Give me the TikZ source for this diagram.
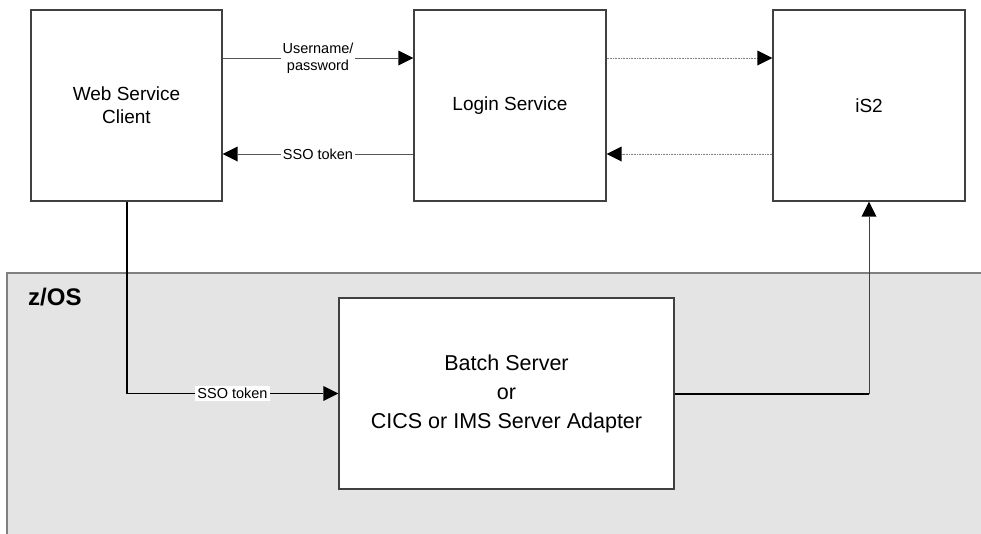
\documentclass[tikz,border=0pt]{standalone}
\usepackage{fontspec}
\setmainfont{Liberation Sans}
\usetikzlibrary{arrows.meta}
\definecolor{zosfill}{HTML}{E4E4E4}
\definecolor{edgegray}{HTML}{404040}
\definecolor{linegray}{HTML}{555555}
\tikzset{
  boxnode/.style={draw=edgegray, line width=1.1pt, fill=white, inner sep=0pt,
    minimum width=#1, minimum height=191pt, align=center,
    font=\fontsize{19}{23}\selectfont},
  boxnode/.default=191pt,
  tip/.style={-{Triangle[length=15pt,width=15pt,color=black,line width=0pt]}},
  labelarrow/.style={tip, draw=linegray, line width=0.9pt},
  dotarrow/.style={tip, draw=gray, line width=1pt, dash pattern=on 1pt off 0.6pt},
  thickarrow/.style={draw=black, line width=2pt},
  lbl/.style={fill=white, inner sep=2pt, align=center, font=\fontsize{14.5}{17}\selectfont}
}
\begin{document}
\begin{tikzpicture}[x=1pt,y=-1pt]
\useasboundingbox (0,0) rectangle (981,533);
\clip (0,0) rectangle (981,533);
% z/OS region
\draw[draw=gray, line width=1.1pt, fill=zosfill] (7,273) rectangle (990,545);
\node[anchor=base west, font=\fontsize{24}{28}\selectfont\bfseries, inner sep=0pt] (zos) at (28,305) {z/OS};
% boxes
\node[boxnode] (web) at (126.5,105.5) {Web Service\\Client};
\node[boxnode=192pt] (login) at (510,105.5) {Login Service};
\node[boxnode=192pt] (is2) at (869,105.5) {iS2};
\node[boxnode=335pt, font=\fontsize{21.5}{29}\selectfont] (batch) at (506.5,393.5) {Batch Server\\or\\CICS or IMS Server Adapter};
% connectors
\draw[labelarrow] ([yshift=47.5pt]web.east) -- node[lbl] (up) {Username/\\password} ([yshift=47.5pt]login.west);
\draw[labelarrow] ([yshift=-48.5pt]login.west) -- node[lbl] (sso1) {SSO token} ([yshift=-48.5pt]web.east);
\draw[dotarrow] ([yshift=47.5pt]login.east) -- ([yshift=47.5pt]is2.west);
\draw[dotarrow] ([yshift=-48.5pt]is2.west) -- ([yshift=-48.5pt]login.east);
\draw[thickarrow] (web.south) -- (web.south |- batch.west);
\draw[labelarrow, draw=black] (web.south |- batch.west) -- node[lbl] (sso2) {SSO token} (batch.west);
\draw[thickarrow] (batch.east) -- (batch.east -| is2.south);
\draw[tip, draw=edgegray, line width=1pt] (batch.east -| is2.south) -- (is2.south);
\end{tikzpicture}
\end{document}
